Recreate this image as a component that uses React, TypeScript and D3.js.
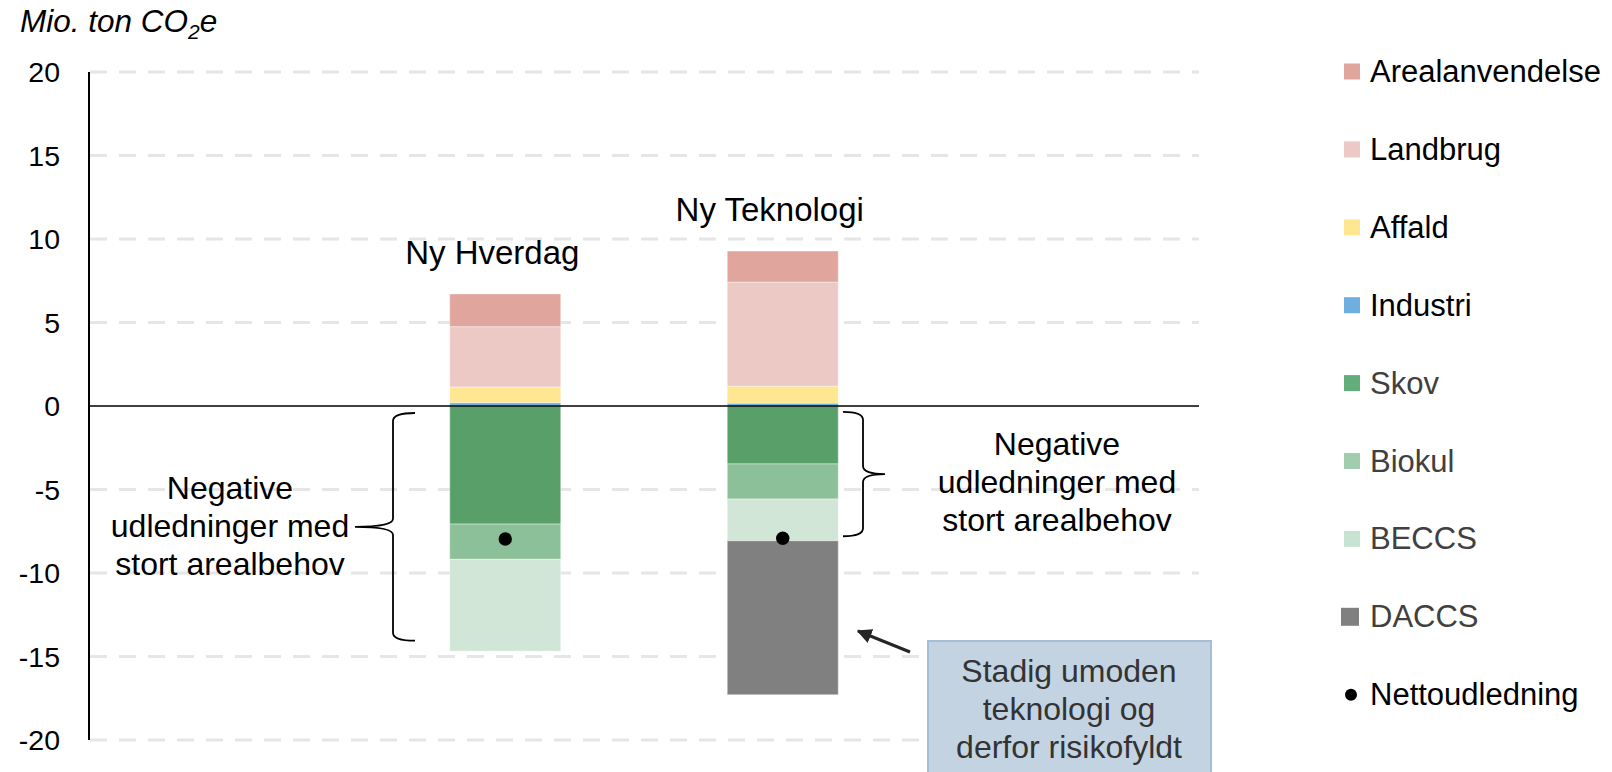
import React, { useEffect, useRef } from 'react';
import * as d3 from 'd3';

const categories = ['Ny Hverdag', 'Ny Teknologi'];
const arealanvendelse = [1.96, 1.86];
const landbrug = [3.61, 6.23];
const affald = [0.94, 1.02];
const industri = [0.2, 0.17];
const skov = [-7.07, -3.47];
const biokul = [-2.11, -2.1];
const beccs = [-5.5, -2.5];
const daccs = [0, -9.22];
const netto = [-7.96, -7.92];
const yTicks = [20, 15, 10, 5, 0, -5, -10, -15, -20];

const seriesNames = ['Arealanvendelse', 'Landbrug', 'Affald', 'Industri', 'Skov', 'Biokul', 'BECCS', 'DACCS'];
const seriesValues = [arealanvendelse, landbrug, affald, industri, skov, biokul, beccs, daccs];
const barColors = ['#E0A69E', '#ECC9C5', '#FFE691', '#6FAFE0', '#599F69', '#8CC098', '#D1E6D7', '#808080'];
const legendColors = ['#E0A69E', '#ECC9C5', '#FFE691', '#6FAFE0', '#63AD7A', '#9FCDAE', '#C7E3D2', '#808080'];
const legendTextColors = ['#000', '#000', '#000', '#000', '#404040', '#404040', '#404040', '#404040'];

const FONT = '"Liberation Sans", Arial, sans-serif';

// stack order: positives from the zero line upwards, negatives downwards
const stackOrder = ['Industri', 'Affald', 'Landbrug', 'Arealanvendelse', 'Skov', 'Biokul', 'BECCS', 'DACCS'];

const App = () => {
  const ref = useRef<SVGSVGElement>(null);

  useEffect(() => {
    const width = 1612;
    const height = 772;
    const left = 89;
    const right = 1199;

    const svg = d3.select(ref.current);
    svg.selectAll('*').remove();
    svg.attr('width', width).attr('height', height);

    const x = d3.scaleBand().domain(categories).range([left, right]).paddingInner(0.6).paddingOuter(1.3);
    const y = d3.scaleLinear().domain([-20, 20]).range([740, 72]);

    const table = categories.map((c, i) => {
      const row: any = { cat: c };
      seriesNames.forEach((s, j) => (row[s] = seriesValues[j][i]));
      return row;
    });

    // gridlines
    svg.append('g')
      .selectAll('line')
      .data(yTicks.filter(t => t !== 0))
      .enter().append('line')
      .attr('x1', left + 1)
      .attr('x2', right)
      .attr('y1', d => y(d))
      .attr('y2', d => y(d))
      .attr('stroke', '#E6E6E6')
      .attr('stroke-width', 3)
      .attr('stroke-dasharray', '17,12');

    // tick labels
    svg.append('g')
      .selectAll('text')
      .data(yTicks)
      .enter().append('text')
      .attr('x', 60)
      .attr('y', d => y(d) + 10)
      .attr('text-anchor', 'end')
      .attr('font-family', FONT)
      .attr('font-size', 28.5)
      .attr('fill', '#000')
      .text(d => d);

    // stacked bars
    const stack = d3.stack<any>().keys(stackOrder).offset(d3.stackOffsetDiverging);
    const layers = stack(table);

    svg.append('g')
      .selectAll('g')
      .data(layers)
      .enter().append('g')
      .attr('fill', d => barColors[seriesNames.indexOf(d.key)])
      .selectAll('rect')
      .data(d => d.filter(p => p[1] - p[0] !== 0))
      .enter().append('rect')
      .attr('x', d => x(d.data.cat)!)
      .attr('width', x.bandwidth())
      .attr('y', d => y(d[1]))
      .attr('height', d => y(d[0]) - y(d[1]))
      .attr('stroke', '#fff')
      .attr('stroke-opacity', 0.4)
      .attr('stroke-width', 1);

    // axis lines
    svg.append('line')
      .attr('x1', left).attr('x2', left)
      .attr('y1', y(20)).attr('y2', y(-20))
      .attr('stroke', '#000').attr('stroke-width', 2);
    svg.append('line')
      .attr('x1', left).attr('x2', right)
      .attr('y1', y(0)).attr('y2', y(0))
      .attr('stroke', '#000').attr('stroke-width', 1.5);

    // net dots
    svg.append('g')
      .selectAll('circle')
      .data(categories)
      .enter().append('circle')
      .attr('cx', d => x(d)! + x.bandwidth() / 2)
      .attr('cy', (d, i) => y(netto[i]))
      .attr('r', 6.7)
      .attr('fill', '#000');

    // scenario labels above the bars
    const totals = categories.map((c, i) => arealanvendelse[i] + landbrug[i] + affald[i] + industri[i]);
    svg.append('g')
      .selectAll('text')
      .data(categories)
      .enter().append('text')
      .attr('x', d => x(d)! + x.bandwidth() / 2 - 13)
      .attr('y', (d, i) => y(totals[i]) - 30)
      .attr('text-anchor', 'middle')
      .attr('font-family', FONT)
      .attr('font-size', 33)
      .attr('fill', '#000')
      .text(d => d);

    // title
    const title = svg.append('text')
      .attr('x', 20)
      .attr('y', 32)
      .attr('font-family', FONT)
      .attr('font-size', 31.5)
      .attr('font-style', 'italic')
      .attr('fill', '#000');
    title.append('tspan').text('Mio. ton CO');
    title.append('tspan').attr('font-size', 21).attr('dy', 7).text('2');
    title.append('tspan').attr('dy', -7).text('e');

    // curly braces
    const brace = (x0: number, y1: number, y2: number, tip: number, mid: number) => {
      const ym = (y1 + y2) / 2;
      const r = 8;
      const s = Math.sign(tip);
      return `M${x0 + tip},${y1} Q${x0},${y1} ${x0},${y1 + r} L${x0},${ym - r} Q${x0},${ym} ${x0 - s * mid},${ym}` +
        ` Q${x0},${ym} ${x0},${ym + r} L${x0},${y2 - r} Q${x0},${y2} ${x0 + tip},${y2}`;
    };
    svg.append('path')
      .attr('d', brace(393, y(-0.42), y(-14.05), 22, 38))
      .attr('fill', 'none').attr('stroke', '#000').attr('stroke-width', 1.8);
    svg.append('path')
      .attr('d', brace(863, y(-0.35), y(-7.8), -20, 22))
      .attr('fill', 'none').attr('stroke', '#000').attr('stroke-width', 1.8);

    const note = ['Negative', 'udledninger med', 'stort arealbehov'];
    const addLines = (cx: number, baseline: number, lines: string[], color: string, size: number) => {
      svg.append('g')
        .selectAll('text')
        .data(lines)
        .enter().append('text')
        .attr('x', cx)
        .attr('y', (d, i) => baseline + i * 38)
        .attr('text-anchor', 'middle')
        .attr('font-family', FONT)
        .attr('font-size', size)
        .attr('fill', color)
        .text(d => d);
    };
    addLines(230, 499, note, '#000', 32);
    addLines(1057, 455, note, '#000', 32);

    // DACCS callout
    svg.append('defs').append('marker')
      .attr('id', 'arrowhead')
      .attr('viewBox', '0 0 10 10')
      .attr('refX', 9).attr('refY', 5)
      .attr('markerWidth', 5).attr('markerHeight', 5)
      .attr('orient', 'auto')
      .append('path').attr('d', 'M0,0 L10,5 L0,10 z').attr('fill', '#262626');
    svg.append('line')
      .attr('x1', 910).attr('y1', 652)
      .attr('x2', 858).attr('y2', 631)
      .attr('stroke', '#262626').attr('stroke-width', 3)
      .attr('marker-end', 'url(#arrowhead)');
    svg.append('rect')
      .attr('x', 928).attr('y', 641)
      .attr('width', 283).attr('height', 160)
      .attr('fill', '#C3D3E2')
      .attr('stroke', '#A4BED5').attr('stroke-width', 2);
    addLines(1069, 682, ['Stadig umoden', 'teknologi og', 'derfor risikofyldt'], '#333', 32);

    // legend
    const legend = svg.append('g').attr('transform', 'translate(1344,0)');
    const rowY = (i: number) => 71.5 + i * 77.9;
    const items = legend.selectAll('g')
      .data(seriesNames)
      .enter().append('g')
      .attr('transform', (d, i) => `translate(0,${rowY(i)})`);
    items.append('rect')
      .attr('x', (d, i) => (i === 7 ? -3 : 0))
      .attr('y', (d, i) => (i === 7 ? -9 : -8))
      .attr('width', (d, i) => (i === 7 ? 18 : 16))
      .attr('height', (d, i) => (i === 7 ? 18 : 16))
      .attr('fill', (d, i) => legendColors[i]);
    items.append('text')
      .attr('x', 26)
      .attr('y', 10.5)
      .attr('font-family', FONT)
      .attr('font-size', 31)
      .attr('fill', (d, i) => legendTextColors[i])
      .text(d => d);
    const netRow = legend.append('g').attr('transform', `translate(0,${rowY(8)})`);
    netRow.append('circle').attr('cx', 7).attr('cy', 0).attr('r', 6).attr('fill', '#000');
    netRow.append('text')
      .attr('x', 26).attr('y', 10.5)
      .attr('font-family', FONT).attr('font-size', 31).attr('fill', '#000')
      .text('Nettoudledning');
  }, []);

  return (
    <div style={{ position: 'absolute', left: 0, top: 0, width: 1612, height: 772, background: '#fff' }}>
      <svg ref={ref}></svg>
    </div>
  );
};

export default App;
